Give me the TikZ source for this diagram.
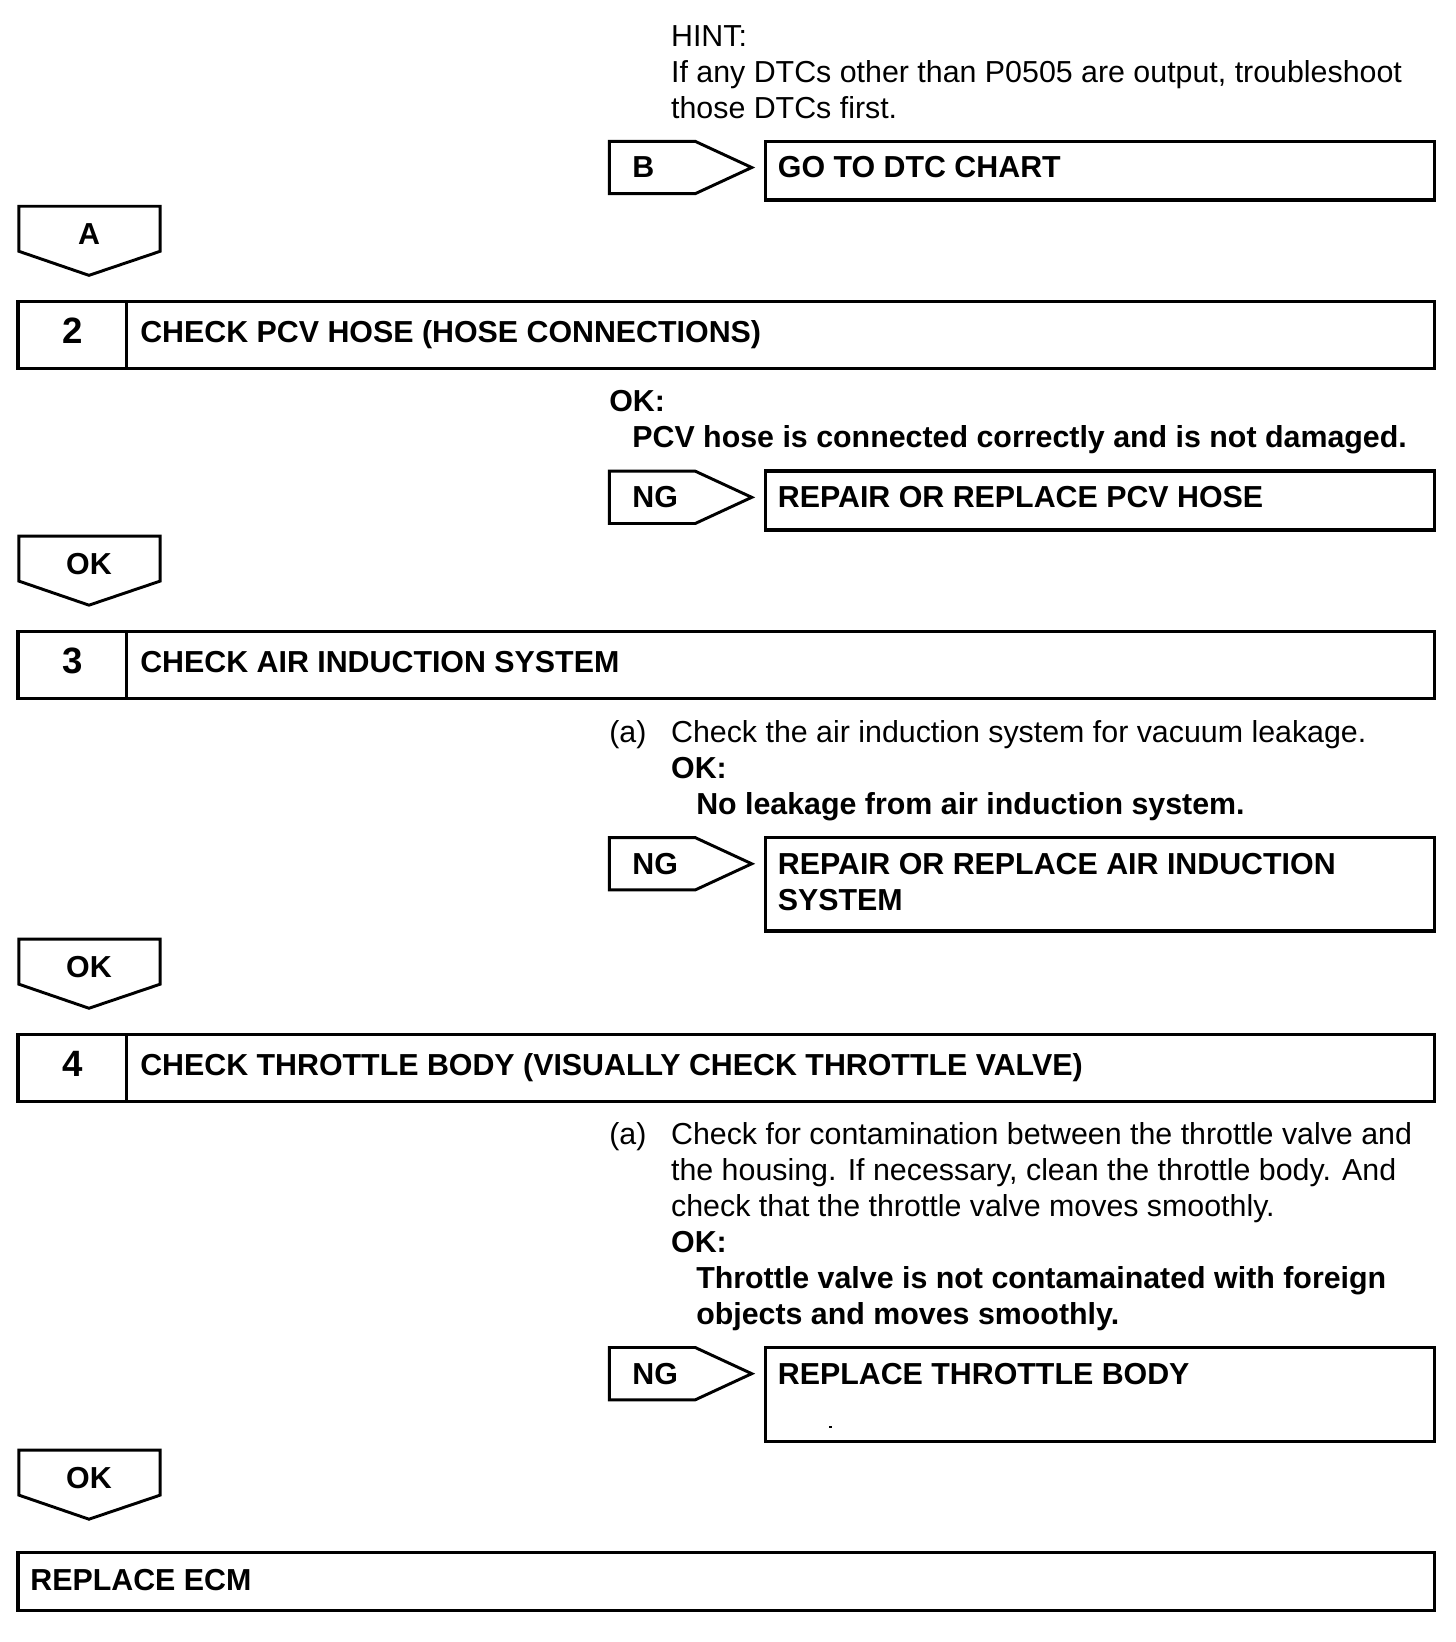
\documentclass[tikz,border=0pt]{standalone}
\usepackage{fontspec}
\setmainfont{Liberation Sans}
\newcommand\fsz{\fontsize{14.5pt}{17.2pt}\selectfont}
\newcommand\nsz{\fontsize{17.5pt}{20pt}\selectfont\bfseries}
\tikzset{
  x=0.5pt, y=-0.5pt,
  frame/.style={line width=1.65pt, line join=miter},
  tagline/.style={line width=1.4pt, line join=miter},
  txt/.style={anchor=base west, inner sep=0pt, outer sep=0pt, font=\fsz},
  btxt/.style={txt, font=\fsz\bfseries},
  ctxt/.style={anchor=base, inner sep=0pt, outer sep=0pt, font=\fsz\bfseries},
  numtxt/.style={anchor=base, inner sep=0pt, outer sep=0pt, font=\nsz},
}
% down pointing tag: #1 top y, #2 label, #3 name
\newcommand\downtag[3]{%
  \draw[tagline] (18,#1) -- (153,#1) -- (153,#1+43) -- (85,#1+66) -- (18,#1+43) -- cycle;
  \node[ctxt] (#3) at (85,#1+37) {#2};}
% right pointing tag: #1 top y, #2 label, #3 name
\newcommand\righttag[3]{%
  \draw[tagline] (582,#1) -- (664,#1) -- (718,#1+25) -- (664,#1+50) -- (582,#1+50) -- cycle;
  \node[btxt] (#3) at (604,#1+35) {#2};}
% step box: #1 top y, #2 number, #3 title, #4 name
\newcommand\stepbox[4]{%
  \draw[frame] (17,#1) rectangle (1370,#1+64);
  \draw[frame] (121,#1) -- (121,#1+64);
  \node[numtxt] (#4n) at (69,#1+40) {#2};
  \node[btxt] (#4t) at (134,#1+39) {#3};}
\begin{document}
\begin{tikzpicture}
\useasboundingbox (0,0) rectangle (1390.6,1568.3);
\fill[white] (0,0) rectangle (1390.6,1568.3);

% HINT
\node[txt] (hint1) at (641,44.6) {HINT:};
\node[txt] (hint2) at (641,79) {If any DTCs other than P0505 are output, troubleshoot};
\node[txt] (hint3) at (641,113.4) {those DTCs first.};

\righttag{135}{B}{tagB}
\draw[frame] (731,135) rectangle (1370,191);
\node[btxt] (dtc) at (743,170) {GO TO DTC CHART};

\downtag{197}{A}{tagA}

% step 2
\stepbox{288}{2}{CHECK PCV HOSE (HOSE CONNECTIONS)}{s2}
\node[btxt] (ok2) at (582,393) {OK:};
\node[btxt] (ok2t) at (604,427.5) {PCV hose is connected correctly and is not damaged.};
\righttag{450}{NG}{ng2}
\draw[frame] (731,450) rectangle (1370,506);
\node[btxt] (rep2) at (743,485) {REPAIR OR REPLACE PCV HOSE};

\downtag{512}{OK}{okA}

% step 3
\stepbox{603}{3}{CHECK AIR INDUCTION SYSTEM}{s3}
\node[txt] (a3) at (582,709) {(a)};
\node[txt] (a3t) at (641,709) {Check the air induction system for vacuum leakage.};
\node[btxt] (ok3) at (641,743.4) {OK:};
\node[btxt] (ok3t) at (665,777.8) {No leakage from air induction system.};
\righttag{800}{NG}{ng3}
\draw[frame] (731,800) rectangle (1370,889);
\node[btxt] (rep3a) at (743,835) {REPAIR OR REPLACE AIR INDUCTION};
\node[btxt] (rep3b) at (743,869.4) {SYSTEM};

\downtag{897}{OK}{okB}

% step 4
\stepbox{988}{4}{CHECK THROTTLE BODY (VISUALLY CHECK THROTTLE VALVE)}{s4}
\node[txt] (a4) at (582,1093) {(a)};
\node[txt] (a4t1) at (641,1093) {Check for contamination between the throttle valve and};
\node[txt] (a4t2) at (641,1127.4) {the housing. If necessary, clean the throttle body. And};
\node[txt] (a4t3) at (641,1161.8) {check that the throttle valve moves smoothly.};
\node[btxt] (ok4) at (641,1196.2) {OK:};
\node[btxt] (ok4t1) at (665,1230.6) {Throttle valve is not contamainated with foreign};
\node[btxt] (ok4t2) at (665,1265) {objects and moves smoothly.};
\righttag{1287}{NG}{ng4}
\draw[frame] (731,1287) rectangle (1370,1377);
\node[btxt] (rep4) at (743,1322) {REPLACE THROTTLE BODY};
\fill (791.5,1361.5) rectangle (795,1363.5);

\downtag{1385}{OK}{okC}

% final
\draw[frame] (17,1483) rectangle (1370,1538);
\node[btxt] (ecm) at (29,1519) {REPLACE ECM};
\end{tikzpicture}
\end{document}
